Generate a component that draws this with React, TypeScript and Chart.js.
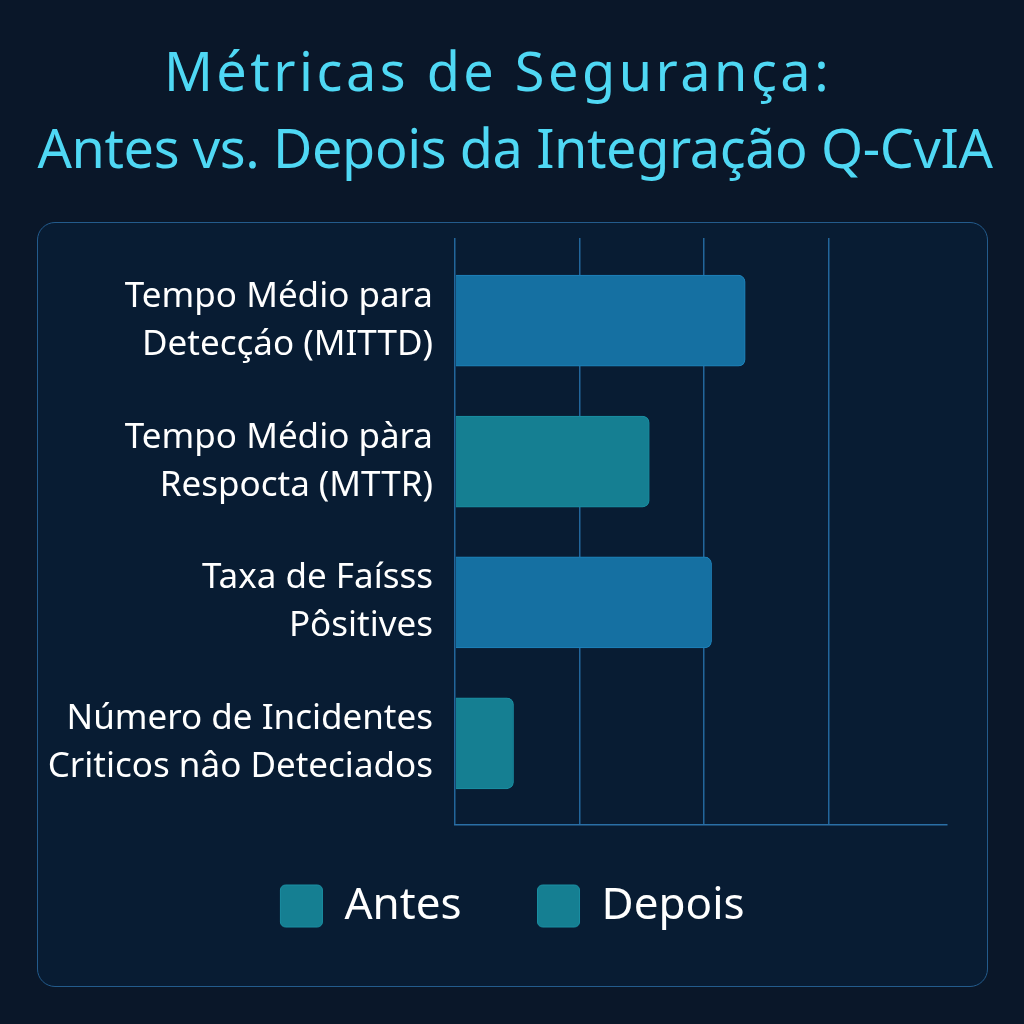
import { useEffect, useRef } from "react";
import { Chart, registerables } from "chart.js";

Chart.register(...registerables);

const titleLines = ["Métricas de Segurança:", "Antes vs. Depois da Integração Q-CvIA"];
const categories = [
  ["Tempo Médio para", "Detecçáo (MITTD)"],
  ["Tempo Médio pàra", "Respocta (MTTR)"],
  ["Taxa de Faísss", "Pôsitives"],
  ["Número de Incidentes", "Criticos nâo Deteciados"],
];
const seriesNames = ["Antes", "Depois"];
const antesValues: (number | null)[] = [2.33, null, 2.06, null];
const depoisValues: (number | null)[] = [null, 1.56, null, 0.47];
const xTicks = [0, 1, 2, 3];
const barColors = ["#1570a2", "#157f92"];
const barBorders = ["#1f82bb", "#1a8fa3"];
const legendColors = ["#157f92", "#157f92"];

const toPoints = (vals: (number | null)[]) =>
  vals
    .map((v, i) => (v === null ? null : { x: v, y: i }))
    .filter((p) => p !== null) as { x: number; y: number }[];

export default function App() {
  const ref = useRef<HTMLCanvasElement | null>(null);

  useEffect(() => {
    if (!ref.current) return;
    const font = "'Noto Sans', 'DejaVu Sans', sans-serif";
    const chart = new Chart(ref.current, {
      type: "bar",
      data: {
        datasets: [
          {
            label: seriesNames[0],
            data: toPoints(antesValues),
            backgroundColor: barColors[0],
            borderColor: barBorders[0],
            borderWidth: 1,
            borderRadius: 7,
            barThickness: 91,
            grouped: false,
          },
          {
            label: seriesNames[1],
            data: toPoints(depoisValues),
            backgroundColor: barColors[1],
            borderColor: barBorders[1],
            borderWidth: 1,
            borderRadius: 7,
            barThickness: 91,
            grouped: false,
          },
        ],
      },
      options: {
        animation: false,
        responsive: false,
        indexAxis: "y",
        layout: { padding: { top: 16, right: 0, left: 0, bottom: 32 } },
        scales: {
          x: {
            type: "linear",
            min: 0,
            max: 3.95,
            afterBuildTicks: (s: any) => {
              s.ticks = xTicks.map((v) => ({ value: v }));
            },
            afterFit: (s: any) => {
              s.height = -17;
            },
            ticks: { display: false },
            grid: { color: "#22669c", lineWidth: 1.5, drawTicks: false },
            border: { display: true, color: "#2a6fa6", width: 1.5 },
          },
          y: {
            type: "linear",
            reverse: true,
            offset: false,
            min: -0.587,
            max: 3.58,
            afterBuildTicks: (s: any) => {
              s.ticks = categories.map((_, i) => ({ value: i }));
            },
            afterFit: (s: any) => {
              s.width = 418;
              s.paddingTop = 0;
              s.paddingBottom = 0;
            },
            ticks: {
              callback: (v: any) => categories[Number(v)] as any,
              color: "#ffffff",
              font: { family: font, size: 35, lineHeight: 1.37 },
              padding: 22,
            },
            grid: { display: false, drawTicks: false },
            border: { display: false },
          },
          yRight: {
            type: "linear",
            position: "right",
            display: true,
            afterFit: (s: any) => {
              s.width = 41;
              s.paddingTop = 0;
              s.paddingBottom = 0;
            },
            ticks: { display: false },
            grid: { display: false, drawTicks: false },
            border: { display: false },
          },
        },
        plugins: {
          tooltip: { enabled: false },
          legend: {
            position: "bottom",
            labels: {
              color: "#ffffff",
              font: { family: font, size: 44 },
              boxWidth: 42,
              boxHeight: 42,
              padding: 76,
              useBorderRadius: true,
              borderRadius: 5,
              generateLabels: (c: any) =>
                c.data.datasets.map((d: any, i: number) => ({
                  text: d.label,
                  fillStyle: legendColors[i],
                  strokeStyle: "#1a8fa3",
                  lineWidth: 1,
                  fontColor: "#ffffff",
                  borderRadius: 5,
                  datasetIndex: i,
                  hidden: false,
                })),
            },
          },
        },
      } as any,
    });
    return () => chart.destroy();
  }, []);

  return (
    <div
      style={{
        position: "fixed",
        left: 0,
        top: 0,
        width: 1024,
        height: 1024,
        background: "#0a1729",
        overflow: "hidden",
      }}
    >
      <div
        style={{
          position: "absolute",
          left: 0,
          top: 32,
          width: 1024,
          textAlign: "center",
          color: "#4fd8f4",
          fontFamily: "'Noto Sans', 'DejaVu Sans', sans-serif",
          fontSize: 54,
          lineHeight: "77px",
          whiteSpace: "nowrap",
        }}
      >
        <div style={{ letterSpacing: "3.5px", position: "relative", left: -14 }}>{titleLines[0]}</div>
        <div style={{ letterSpacing: "-0.4px", position: "relative", left: 3 }}>{titleLines[1]}</div>
      </div>
      <div
        style={{
          position: "absolute",
          left: 37,
          top: 222,
          width: 951,
          height: 765,
          boxSizing: "border-box",
          border: "1.5px solid #235b8c",
          borderRadius: 18,
          background: "#081c33",
        }}
      >
        <canvas
          ref={ref}
          width={951}
          height={765}
          style={{ position: "absolute", left: -1.5, top: -1.5, width: 951, height: 765 }}
        />
      </div>
    </div>
  );
}
